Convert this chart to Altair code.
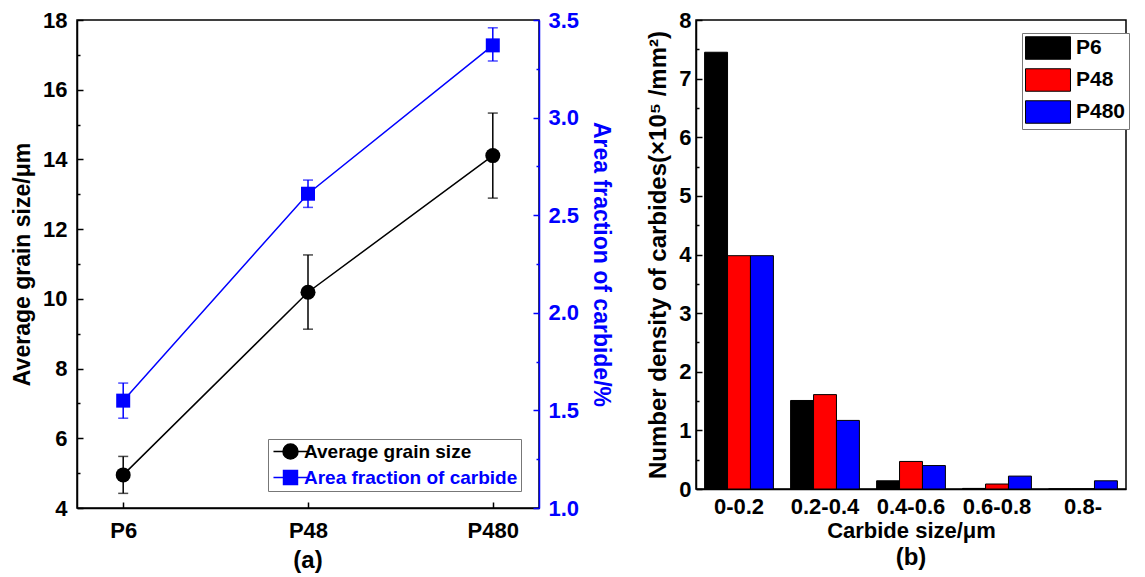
import altair as alt
import pandas as pd

# ---------------- data ----------------
groups = ["P6", "P48", "P480"]
grain = [4.95, 10.19, 14.11]
grain_lo = [4.42, 9.13, 12.89]
grain_hi = [5.48, 11.26, 15.33]
area = [1.55, 2.61, 3.37]
area_lo = [1.46, 2.54, 3.29]
area_hi = [1.64, 2.68, 3.46]
series_names = ["Average grain size", "Area fraction of carbide"]

grain_ticks = list(range(4, 19))
area_ticks = [1.0, 1.25, 1.5, 1.75, 2.0, 2.25, 2.5, 2.75, 3.0, 3.25, 3.5]

size_bins = ["0-0.2", "0.2-0.4", "0.4-0.6", "0.6-0.8", "0.8-"]
bar_series = ["P6", "P48", "P480"]
dens_p6 = [7.45, 1.51, 0.14, 0.01, 0.0]
dens_p48 = [3.98, 1.61, 0.47, 0.085, 0.0]
dens_p480 = [3.98, 1.17, 0.40, 0.22, 0.14]
dens_ticks = [i / 2 for i in range(0, 17)]

FONT = "Liberation Sans"

grain_df = pd.DataFrame({"group": groups, "value": grain, "lo": grain_lo,
                         "hi": grain_hi, "series": series_names[0]})
area_df = pd.DataFrame({"group": groups, "value": area, "lo": area_lo,
                        "hi": area_hi, "series": series_names[1]})

bar_rows = []
for name, vals in zip(bar_series, [dens_p6, dens_p48, dens_p480]):
    for b, v in zip(size_bins, vals):
        bar_rows.append({"size": b, "sample": name, "value": v})
bar_df = pd.DataFrame(bar_rows)

# ---------------- left panel ----------------
x_left = alt.X("group:N", sort=groups,
               scale=alt.Scale(type="point", padding=0.25),
               axis=alt.Axis(title=None, labelAngle=0, labelFontSize=22,
                             tickSize=alt.ExprRef("-6"), labelPadding=18))

circle_path = ("M-2.27,0H-1M1,0H2.27M1,0A1,1,0,1,1,-1,0A1,1,0,1,1,1,0Z")
square_path = "M-2.27,0H-0.93M0.93,0H2.27M-0.93,-0.93H0.93V0.93H-0.93Z"

leg_left = alt.Legend(
    title=None, orient="none", legendX=191, legendY=419, direction="vertical",
    labelFont=FONT, labelFontSize=19, labelFontWeight="bold", labelLimit=400,
    labelColor=alt.ExprRef("datum.label == 'Average grain size' ? 'black' : 'blue'"),
    symbolSize=225, symbolStrokeWidth=1.5, symbolOffset=10, padding=3, rowPadding=5,
    labelOffset=4, strokeColor="#777777", fillColor="white",
)

g_axis = alt.Axis(title="Average grain size/μm", orient="left", values=grain_ticks,
                  labelExpr="datum.value % 2 == 0 ? datum.label : ''",
                  labelFontSize=22, titleFontSize=23, labelPadding=16,
                  tickSize=alt.ExprRef("datum.value % 2 == 0 ? -6 : -3"),
                  titlePadding=8, domainColor="black", tickColor="black")
g_scale = alt.Scale(domain=[4, 18], nice=False, zero=False)
gb = alt.Chart(grain_df).encode(x=x_left)
g_line = gb.mark_line(color="black", strokeWidth=1.5).encode(
    y=alt.Y("value:Q", scale=g_scale, axis=g_axis))
g_rule = gb.mark_rule(color="black", strokeWidth=1.5).encode(
    y=alt.Y("lo:Q", scale=g_scale, axis=g_axis), y2="hi:Q")
g_cap1 = gb.mark_tick(color="black", size=10, thickness=1.5).encode(
    y=alt.Y("lo:Q", scale=g_scale, axis=g_axis))
g_cap2 = gb.mark_tick(color="black", size=10, thickness=1.5).encode(
    y=alt.Y("hi:Q", scale=g_scale, axis=g_axis))
g_pts = gb.mark_point(filled=True, size=225, opacity=1, shape="circle", color="black").encode(
    y=alt.Y("value:Q", scale=g_scale, axis=g_axis))
# legend-only layer (no rows drawn): carries the legend through the library
g_leg = gb.transform_filter("datum.value < -1000").mark_point(filled=True, opacity=1).encode(
    y=alt.Y("value:Q", scale=g_scale, axis=g_axis),
    fill=alt.Fill("series:N", scale=alt.Scale(domain=series_names, range=["black", "blue"]),
                  legend=leg_left),
    stroke=alt.Stroke("series:N", scale=alt.Scale(domain=series_names, range=["black", "blue"]),
                      legend=leg_left),
    shape=alt.Shape("series:N", scale=alt.Scale(domain=series_names,
                                                range=[circle_path, square_path]),
                    legend=leg_left),
)
grain_layer = alt.layer(g_line, g_rule, g_cap1, g_cap2, g_pts, g_leg)

a_axis = alt.Axis(title="Area fraction of carbide/%", orient="right", values=area_ticks,
                  labelExpr="(datum.value * 2) % 1 == 0 ? format(datum.value, '.1f') : ''",
                  labelFontSize=22, titleFontSize=23, labelPadding=15,
                  tickSize=alt.ExprRef("(datum.value * 2) % 1 == 0 ? -6 : -3"),
                  titlePadding=10, domainColor="blue", tickColor="blue",
                  labelColor="blue", titleColor="blue")
a_scale = alt.Scale(domain=[1.0, 3.5], nice=False, zero=False)
ab = alt.Chart(area_df).encode(x=x_left)
a_line = ab.mark_line(color="blue", strokeWidth=1.5).encode(
    y=alt.Y("value:Q", scale=a_scale, axis=a_axis))
a_rule = ab.mark_rule(color="blue", strokeWidth=1.5).encode(
    y=alt.Y("lo:Q", scale=a_scale, axis=a_axis), y2="hi:Q")
a_cap1 = ab.mark_tick(color="blue", size=10, thickness=1.5).encode(
    y=alt.Y("lo:Q", scale=a_scale, axis=a_axis))
a_cap2 = ab.mark_tick(color="blue", size=10, thickness=1.5).encode(
    y=alt.Y("hi:Q", scale=a_scale, axis=a_axis))
a_pts = ab.mark_point(filled=True, size=196, opacity=1, shape="square", color="blue").encode(
    y=alt.Y("value:Q", scale=a_scale, axis=a_axis))
area_layer = alt.layer(a_line, a_rule, a_cap1, a_cap2, a_pts)

left = alt.layer(grain_layer, area_layer).resolve_scale(y="independent").properties(
    width=462, height=488,
    title=alt.TitleParams("(a)", orient="bottom", fontSize=24, font=FONT,
                          fontWeight="bold", offset=8),
)

# ---------------- right panel ----------------
leg_right = alt.Legend(
    title=None, orient="none", legendX=326, legendY=13, direction="vertical",
    labelFont=FONT, labelFontSize=21, labelFontWeight="bold",
    symbolType="M-2,-1H2V1H-2Z", symbolSize=506, symbolStrokeColor="black",
    symbolStrokeWidth=1, symbolOffset=11, padding=3, rowPadding=4, labelOffset=16,
    strokeColor="#777777", fillColor="white",
)

right = alt.Chart(bar_df).mark_bar(stroke="black", strokeWidth=1).encode(
    x=alt.X("size:N", sort=size_bins,
            scale=alt.Scale(paddingInner=0.2, paddingOuter=0.1),
            axis=alt.Axis(title="Carbide size/μm", labelAngle=0, labelFontSize=22,
                          titleFontSize=22, tickSize=0, labelPadding=7, titlePadding=3)),
    xOffset=alt.XOffset("sample:N", sort=bar_series,
                        scale=alt.Scale(paddingInner=0, paddingOuter=0)),
    y=alt.Y("value:Q", scale=alt.Scale(domain=[0, 8], nice=False),
            axis=alt.Axis(title="Number density of carbides(×10⁵ /mm²)",
                          values=dens_ticks,
                          labelExpr="datum.value % 1 == 0 ? format(datum.value, 'd') : ''",
                          tickSize=alt.ExprRef("datum.value % 1 == 0 ? -6 : -3"),
                          labelFontSize=22, titleFontSize=24,
                          labelPadding=11, titlePadding=8)),
    fill=alt.Fill("sample:N", sort=bar_series,
                  scale=alt.Scale(domain=bar_series, range=["black", "red", "blue"]),
                  legend=leg_right),
).properties(
    width=430, height=469,
    title=alt.TitleParams("(b)", orient="bottom", fontSize=24, font=FONT,
                          fontWeight="bold", offset=5),
)

chart = alt.hconcat(left, right, spacing=33).resolve_scale(
    fill="independent", stroke="independent", shape="independent"
).properties(
    padding={"left": 2, "top": 0, "right": 0, "bottom": 0}
).configure(
    font=FONT,
).configure_axis(
    labelFont=FONT, titleFont=FONT, labelFontWeight="bold", titleFontWeight="bold",
    labelColor="black", titleColor="black", domainColor="black", tickColor="black",
    domainWidth=1.5, tickWidth=1.5, grid=False,
).configure_view(
    stroke="black", strokeWidth=1.5,
).configure_legend(
    labelFont=FONT,
)

chart.save("out.html", embed_options={"renderer": "svg", "actions": False})
